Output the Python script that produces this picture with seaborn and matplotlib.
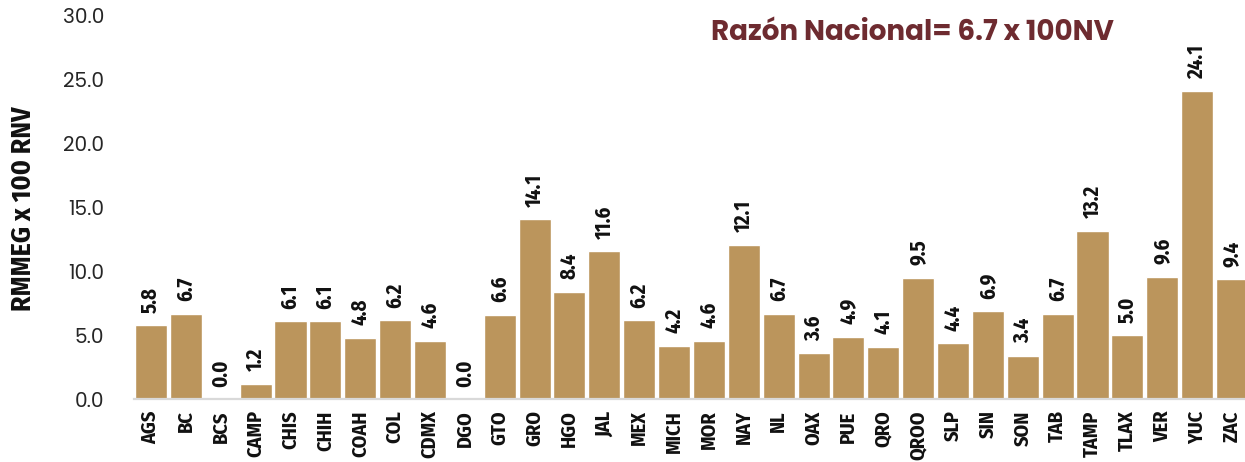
import matplotlib
matplotlib.use("Agg")
import matplotlib.pyplot as plt
import seaborn as sns
import pandas as pd

estados = [
    "AGS", "BC", "BCS", "CAMP", "CHIS", "CHIH", "COAH", "COL", "CDMX", "DGO",
    "GTO", "GRO", "HGO", "JAL", "MEX", "MICH", "MOR", "NAY", "NL", "OAX",
    "PUE", "QRO", "QROO", "SLP", "SIN", "SON", "TAB", "TAMP", "TLAX", "VER",
    "YUC", "ZAC"
]
razon = [
    5.8, 6.7, 0.0, 1.2, 6.1, 6.1, 4.8, 6.2, 4.6, 0.0,
    6.6, 14.1, 8.4, 11.6, 6.2, 4.2, 4.6, 12.1, 6.7, 3.6,
    4.9, 4.1, 9.5, 4.4, 6.9, 3.4, 6.7, 13.2, 5.0, 9.6,
    24.1, 9.4
]
yticks = [0, 5, 10, 15, 20, 25, 30]
titulo = "Razón Nacional= 6.7 x 100NV"
etiqueta_y = "RMMEG x 100 RNV"

df = pd.DataFrame({"Estado": estados, "Razon": razon})

sns.set_style("white")
plt.rcParams["font.family"] = ["DejaVu Sans"]

color_barra = "#BB955C"
cond = ["Fira Sans Condensed", "Liberation Sans", "DejaVu Sans"]
ancha = ["Poppins", "DejaVu Sans"]

fig = plt.figure(figsize=(12.45, 4.62), dpi=100)
ax = fig.add_axes([133.6 / 1245, 62.7 / 462, 1115.8 / 1245, 383.3 / 462])

sns.barplot(data=df, x="Estado", y="Razon", color=color_barra,
            saturation=1, width=0.92, ax=ax)

# etiquetas de valor sobre cada barra
ax.bar_label(ax.containers[0], fmt="%.1f", rotation=90, padding=9,
             fontsize=15, fontweight="bold", family=cond, color="#111111")

ax.set_ylim(0, 30)
ax.set_xlim(-0.5, len(estados) - 0.5)
ax.set_yticks(yticks)
ax.set_yticklabels([f"{v:.1f}" for v in yticks], family=ancha,
                   fontsize=14.5, color="#262626")
ax.tick_params(axis="y", length=0, pad=21)
ax.tick_params(axis="x", length=0, pad=8)
ax.set_xticks(range(len(estados)))
ax.set_xticklabels(estados, rotation=90, fontsize=14.5, fontweight="bold",
                   family=cond, color="#111111", va="top", ha="center")

ax.set_xlabel("")
ax.set_ylabel("")
for s in ["top", "right", "left"]:
    ax.spines[s].set_visible(False)
ax.spines["bottom"].set_color("#D9D9D9")
ax.spines["bottom"].set_linewidth(1.6)
ax.set_facecolor("none")
ax.grid(False)

fig.text(23 / 1245, 1 - 209 / 462, etiqueta_y, rotation=90, ha="center",
         va="center", fontsize=20, fontweight="bold", family=cond,
         color="#111111")
fig.text(912 / 1245, 1 - 34 / 462, titulo, ha="center", va="center",
         fontsize=20, fontweight="bold", family=ancha, color="#6E2B30")

fig.savefig("out.png", dpi=100)
